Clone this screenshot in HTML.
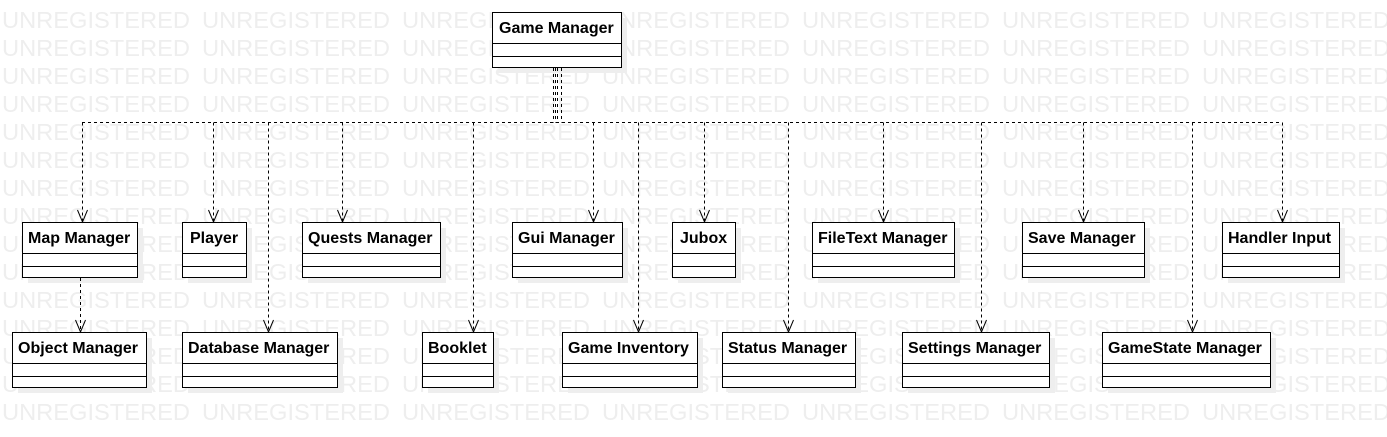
<!DOCTYPE html>
<html><head><meta charset="utf-8"><style>
html,body{margin:0;padding:0;background:#fff;}
svg{display:block;}
.wm{font-family:"Liberation Sans",sans-serif;font-size:23px;fill:#eeeeee;}
.t{font-family:"Liberation Sans",sans-serif;font-size:16px;font-weight:bold;fill:#000;}
.d{stroke:#000;stroke-width:1;stroke-dasharray:3,3;fill:none;}
.s{fill:#eeeeee;}
.b{fill:#fff;stroke:#000;stroke-width:1;}
.a{fill:none;stroke:#000;stroke-width:1;}
</style></head><body>
<svg width="1387" height="437" viewBox="0 0 1387 437" xmlns="http://www.w3.org/2000/svg">
<defs>
<pattern id="wmp" x="0" y="0" width="200" height="28" patternUnits="userSpaceOnUse">
<text class="wm" x="2" y="28" textLength="188" lengthAdjust="spacingAndGlyphs">UNREGISTERED</text>
</pattern>
</defs>
<rect x="0" y="0" width="1387" height="420" fill="url(#wmp)"/>

<rect class="s" x="498" y="18" width="129" height="55"/>
<rect class="s" x="28" y="228" width="115" height="55"/>
<rect class="s" x="188" y="228" width="64" height="55"/>
<rect class="s" x="308" y="228" width="138" height="55"/>
<rect class="s" x="518" y="228" width="110" height="55"/>
<rect class="s" x="678" y="228" width="63" height="55"/>
<rect class="s" x="818" y="228" width="142" height="55"/>
<rect class="s" x="1028" y="228" width="122" height="55"/>
<rect class="s" x="1228" y="228" width="117" height="55"/>
<rect class="s" x="18" y="338" width="134" height="55"/>
<rect class="s" x="188" y="338" width="155" height="55"/>
<rect class="s" x="428" y="338" width="71" height="55"/>
<rect class="s" x="568" y="338" width="135" height="55"/>
<rect class="s" x="728" y="338" width="133" height="55"/>
<rect class="s" x="908" y="338" width="147" height="55"/>
<rect class="s" x="1108" y="338" width="168" height="55"/>

<rect class="b" x="492.5" y="12.5" width="129" height="55"/>
<rect class="b" x="22.5" y="222.5" width="115" height="55"/>
<rect class="b" x="182.5" y="222.5" width="64" height="55"/>
<rect class="b" x="302.5" y="222.5" width="138" height="55"/>
<rect class="b" x="512.5" y="222.5" width="110" height="55"/>
<rect class="b" x="672.5" y="222.5" width="63" height="55"/>
<rect class="b" x="812.5" y="222.5" width="142" height="55"/>
<rect class="b" x="1022.5" y="222.5" width="122" height="55"/>
<rect class="b" x="1222.5" y="222.5" width="117" height="55"/>
<rect class="b" x="12.5" y="332.5" width="134" height="55"/>
<rect class="b" x="182.5" y="332.5" width="155" height="55"/>
<rect class="b" x="422.5" y="332.5" width="71" height="55"/>
<rect class="b" x="562.5" y="332.5" width="135" height="55"/>
<rect class="b" x="722.5" y="332.5" width="133" height="55"/>
<rect class="b" x="902.5" y="332.5" width="147" height="55"/>
<rect class="b" x="1102.5" y="332.5" width="168" height="55"/>

<path class="a" d="M492 43.5H621M492 56.5H621"/>
<path class="a" d="M22 253.5H137M182 253.5H246M302 253.5H440M512 253.5H622M672 253.5H735M812 253.5H954M1022 253.5H1144M1222 253.5H1339
M22 266.5H137M182 266.5H246M302 266.5H440M512 266.5H622M672 266.5H735M812 266.5H954M1022 266.5H1144M1222 266.5H1339"/>
<path class="a" d="M12 363.5H146M182 363.5H337M422 363.5H493M562 363.5H697M722 363.5H855M902 363.5H1049M1102 363.5H1270
M12 376.5H146M182 376.5H337M422 376.5H493M562 376.5H697M722 376.5H855M902 376.5H1049M1102 376.5H1270"/>

<text class="t" x="499" y="33">Game Manager</text>
<text class="t" x="28" y="243">Map Manager</text>
<text class="t" x="190" y="243">Player</text>
<text class="t" x="308" y="243">Quests Manager</text>
<text class="t" x="518" y="243">Gui Manager</text>
<text class="t" x="680" y="243">Jubox</text>
<text class="t" x="818" y="243">FileText Manager</text>
<text class="t" x="1028" y="243">Save Manager</text>
<text class="t" x="1228" y="243">Handler Input</text>
<text class="t" x="18" y="353">Object Manager</text>
<text class="t" x="188" y="353">Database Manager</text>
<text class="t" x="428" y="353">Booklet</text>
<text class="t" x="568" y="353">Game Inventory</text>
<text class="t" x="728" y="353">Status Manager</text>
<text class="t" x="908" y="353">Settings Manager</text>
<text class="t" x="1108" y="353">GameState Manager</text>

<path class="d" d="M553.5 68V122.5M555.5 68V122.5M557.5 68V122.5M561.5 68V122.5"/>
<path class="d" d="M82 122.5H1282"/>
<path class="d" d="M82.5 122.5V222M213.5 122.5V222M342.5 122.5V222M593.5 122.5V222M704.5 122.5V222M883.5 122.5V222M1083.5 122.5V222M1282.5 122.5V222
M268.5 122.5V332M473.5 122.5V332M638.5 122.5V332M788.5 122.5V332M981.5 122.5V332M1192.5 122.5V332M80.5 278V332"/>
<path class="a" d="M77.5 210L82.5 222L87.5 210M208.5 210L213.5 222L218.5 210M337.5 210L342.5 222L347.5 210M588.5 210L593.5 222L598.5 210M699.5 210L704.5 222L709.5 210M878.5 210L883.5 222L888.5 210M1078.5 210L1083.5 222L1088.5 210M1277.5 210L1282.5 222L1287.5 210
M263.5 320L268.5 332L273.5 320M468.5 320L473.5 332L478.5 320M633.5 320L638.5 332L643.5 320M783.5 320L788.5 332L793.5 320M976.5 320L981.5 332L986.5 320M1187.5 320L1192.5 332L1197.5 320M75.5 320L80.5 332L85.5 320"/>
</svg>
</body></html>
